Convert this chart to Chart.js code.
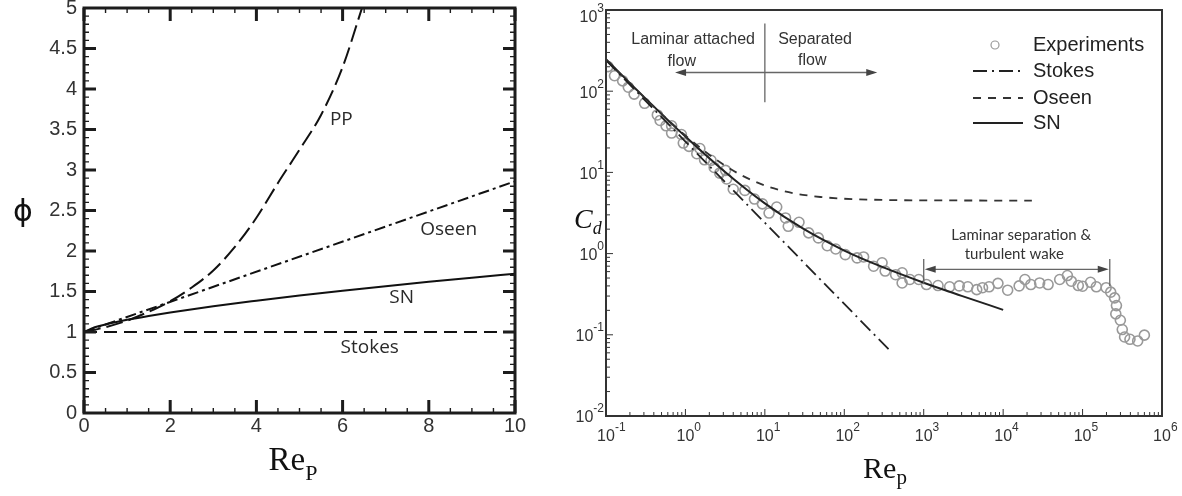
<!DOCTYPE html>
<html>
<head>
<meta charset="utf-8">
<script src="https://cdn.jsdelivr.net/npm/chart.js@4.4.1/dist/chart.umd.min.js"></script>
<style>
  html, body { margin: 0; padding: 0; background: #fff; }
  #wrap { position: relative; width: 1182px; height: 496px; overflow: hidden; }
  .box { position: absolute; top: 0; }
  #left { left: 0; }
  #right { left: 560px; }
</style>
</head>
<body>
<div id="wrap">
  <div class="box" id="left"><canvas id="phiChart" width="560" height="496"></canvas></div>
  <div class="box" id="right"><canvas id="cdChart" width="622" height="496"></canvas></div>
</div>
<script>
// --- pannello sinistro: fattore di correzione phi(Re_p)
const phiTicksX = [0, 2, 4, 6, 8, 10];
const stokesPhiRe = [0, 10];
const stokesPhi = [1, 1];
const oseenPhiRe = [0, 10];
const oseenPhi = [1, 2.86];
const snPhiRe = [0, 0.25, 0.5, 1, 1.5, 2, 3, 4, 5, 6, 7, 8, 9, 10];
const snPhi = [1, 1.058, 1.093, 1.15, 1.198, 1.241, 1.319, 1.387, 1.451, 1.51, 1.566, 1.62, 1.671, 1.72];
const ppPhiRe = [0, 0.5, 1, 1.5, 2, 2.5, 3, 3.5, 4, 4.5, 5, 5.5, 6, 6.45];
const ppPhi = [1, 1.06, 1.14, 1.25, 1.38, 1.55, 1.76, 2.05, 2.41, 2.84, 3.25, 3.68, 4.27, 5.0];

// --- pannello destro: Cd(Re_p)
const cdDecadesX = [-1, 0, 1, 2, 3, 4, 5, 6];
const cdDecadesY = [-2, -1, 0, 1, 2, 3];
const expRe = [0.106, 0.128, 0.162, 0.191, 0.226, 0.306, 0.443, 0.48, 0.57, 0.67, 0.67, 0.89, 0.94, 1.11, 1.39, 1.52,
  1.74, 2.1, 2.3, 2.7, 3.2, 3.3, 4.0, 5.6, 7.4, 9.3, 11.3, 14.1, 18.2, 19.7, 26.9, 35.6, 47.2, 61, 78, 103, 145, 175,
  234, 299, 327, 443, 535, 535, 670, 867, 1084, 1514, 2120, 2800, 3590, 4650, 5500, 6650, 8600, 11400, 15900, 18800,
  22300, 28800, 36800, 51500, 64400, 72100, 88300, 100000, 126000, 149000, 198000, 226000, 253000, 267000, 262000,
  299000, 316000, 338000, 395000, 494000, 600000];
const expCd = [201, 155, 134, 112, 92, 71, 51, 43.6, 37.5, 37.5, 30.5, 29.3, 23, 20.9, 17, 19.7,
  14.3, 14.1, 11.5, 9.8, 10.6, 8.3, 6.2, 6.0, 4.7, 4.1, 3.16, 3.75, 2.75, 2.17, 2.43, 1.8, 1.56, 1.25, 1.14, 0.97, 0.885, 0.91,
  0.70, 0.77, 0.61, 0.55, 0.58, 0.435, 0.48, 0.48, 0.416, 0.404, 0.39, 0.40, 0.39, 0.36, 0.38, 0.39, 0.43, 0.354, 0.40, 0.48,
  0.416, 0.435, 0.416, 0.48, 0.537, 0.457, 0.404, 0.396, 0.443, 0.39, 0.38, 0.335, 0.285, 0.229, 0.181,
  0.151, 0.116, 0.094, 0.088, 0.084, 0.099];
const stokesRe = [0.1, 1, 10, 100, 370];
const stokesCd = [240, 24, 2.4, 0.24, 0.065];
const oseenRe = [0.1, 0.3, 1, 2, 3, 5, 10, 20, 30, 50, 100, 300, 1000, 3000, 10000, 23000];
const oseenCd = [244.5, 84.5, 28.5, 16.5, 12.5, 9.3, 6.9, 5.7, 5.3, 4.98, 4.74, 4.58, 4.52, 4.51, 4.5, 4.5];
const snRe = [0.1, 0.3, 1, 3, 10, 30, 100, 300, 1000, 3000, 10000];
const snCd = [247, 85.2, 27.6, 10.55, 4.15, 2.04, 1.09, 0.685, 0.438, 0.302, 0.203];

function pts(xs, ys) {
  return xs.map((x, i) => ({ x: x, y: ys[i] }));
}

// contorno e tacche del pannello sinistro
const phiFrame = {
  id: 'phiFrame',
  afterDatasetsDraw(chart) {
    const ctx = chart.ctx, a = chart.chartArea, sx = chart.scales.x, sy = chart.scales.y;
    ctx.save();
    ctx.strokeStyle = '#1c1c1c';
    ctx.lineCap = 'butt';
    // tacche minori
    ctx.lineWidth = 1.4;
    ctx.beginPath();
    for (let v = 0.5; v < 10; v += 0.5) {
      const p = sx.getPixelForValue(v);
      ctx.moveTo(p, a.bottom); ctx.lineTo(p, a.bottom - 5);
      ctx.moveTo(p, a.top); ctx.lineTo(p, a.top + 5);
    }
    for (let v = 0.1; v < 5; v += 0.1) {
      const p = sy.getPixelForValue(v);
      ctx.moveTo(a.left, p); ctx.lineTo(a.left + 5, p);
      ctx.moveTo(a.right, p); ctx.lineTo(a.right - 5, p);
    }
    ctx.stroke();
    // tacche principali
    ctx.lineWidth = 3;
    ctx.beginPath();
    phiTicksX.forEach(v => {
      const p = sx.getPixelForValue(v);
      ctx.moveTo(p, a.bottom); ctx.lineTo(p, a.bottom - 13);
      ctx.moveTo(p, a.top); ctx.lineTo(p, a.top + 13);
    });
    for (let v = 0.5; v < 5; v += 0.5) {
      const p = sy.getPixelForValue(v);
      ctx.moveTo(a.left, p); ctx.lineTo(a.left + 12, p);
      ctx.moveTo(a.right, p); ctx.lineTo(a.right - 12, p);
    }
    ctx.stroke();
    ctx.lineWidth = 3;
    ctx.strokeRect(a.left, a.top, a.right - a.left, a.bottom - a.top);

    // etichette delle curve
    ctx.fillStyle = '#2a2a2a';
    ctx.font = '19px "Open Sans"';
    ctx.textAlign = 'center';
    ctx.textBaseline = 'middle';
    [['PP', 5.97, 3.62], ['Oseen', 8.46, 2.27], ['SN', 7.37, 1.42], ['Stokes', 6.63, 0.81]].forEach(l => {
      ctx.fillText(l[0], sx.getPixelForValue(l[1]), sy.getPixelForValue(l[2]));
    });

    // titoli assi
    ctx.fillStyle = '#111';
    ctx.font = '30px "DejaVu Sans"';
    ctx.fillText('\u03D5', 23, 213);
    ctx.textAlign = 'left';
    ctx.textBaseline = 'alphabetic';
    ctx.font = '33px "Liberation Serif"';
    const w1 = ctx.measureText('Re').width;
    ctx.font = '22px "Liberation Serif"';
    const w2 = ctx.measureText('P').width;
    const x0 = 293 - (w1 + w2) / 2;
    ctx.font = '33px "Liberation Serif"';
    ctx.fillText('Re', x0, 470);
    ctx.font = '22px "Liberation Serif"';
    ctx.fillText('P', x0 + w1, 480);
    ctx.restore();
  }
};

new Chart(document.getElementById('phiChart'), {
  type: 'scatter',
  data: {
    datasets: [
      { label: 'PP', data: pts(ppPhiRe, ppPhi), showLine: true, borderColor: '#111', borderWidth: 2,
        borderDash: [17, 6], pointRadius: 0, cubicInterpolationMode: 'monotone' },
      { label: 'Oseen', data: pts(oseenPhiRe, oseenPhi), showLine: true, borderColor: '#111', borderWidth: 2,
        borderDash: [11, 4, 3, 4], pointRadius: 0 },
      { label: 'SN', data: pts(snPhiRe, snPhi), showLine: true, borderColor: '#111', borderWidth: 2,
        pointRadius: 0, cubicInterpolationMode: 'monotone' },
      { label: 'Stokes', data: pts(stokesPhiRe, stokesPhi), showLine: true, borderColor: '#111', borderWidth: 2,
        borderDash: [13, 7], pointRadius: 0 }
    ]
  },
  options: {
    responsive: false,
    animation: false,
    devicePixelRatio: 1,
    layout: { padding: { top: 8, right: 45, left: 0, bottom: 0 } },
    plugins: { legend: { display: false }, tooltip: { enabled: false } },
    scales: {
      x: {
        type: 'linear', min: 0, max: 10,
        grid: { display: false, drawTicks: false },
        border: { display: false },
        ticks: { stepSize: 2, padding: 1, maxRotation: 0, color: '#333',
          font: { family: 'Liberation Sans', size: 20 }, callback: v => String(v) },
        afterFit: s => { s.height = 83; s.paddingLeft = 0; s.paddingRight = 0; }
      },
      y: {
        type: 'linear', min: 0, max: 5,
        grid: { display: false, drawTicks: false },
        border: { display: false },
        ticks: { stepSize: 0.5, padding: 7, color: '#333',
          font: { family: 'Liberation Sans', size: 20 }, callback: v => String(v) },
        afterFit: s => { s.width = 84; s.paddingTop = 0; s.paddingBottom = 0; }
      }
    }
  },
  plugins: [phiFrame]
});

// --- pannello destro
function powLabel(ctx, x, y, exp, mode) {
  ctx.font = '16px "Liberation Sans"';
  const wb = ctx.measureText('10').width;
  ctx.font = '12px "Liberation Sans"';
  const we = ctx.measureText(exp).width;
  let xb;
  if (mode === 'right') xb = x - we - wb; else xb = x - wb / 2;
  ctx.textAlign = 'left';
  ctx.textBaseline = 'middle';
  ctx.font = '16px "Liberation Sans"';
  ctx.fillText('10', xb, y);
  ctx.font = '12px "Liberation Sans"';
  ctx.fillText(exp, xb + wb, y - 9);
}

function arrowHead(ctx, x, y, dir) {
  ctx.beginPath();
  ctx.moveTo(x, y);
  ctx.lineTo(x - dir * 11, y - 3.5);
  ctx.lineTo(x - dir * 11, y + 3.5);
  ctx.closePath();
  ctx.fill();
}

const cdFrame = {
  id: 'cdFrame',
  afterDatasetsDraw(chart) {
    const ctx = chart.ctx, a = chart.chartArea, sx = chart.scales.x, sy = chart.scales.y;
    ctx.save();
    ctx.strokeStyle = '#333';
    // tacche logaritmiche (solo sinistra e basso)
    ctx.lineWidth = 1;
    ctx.beginPath();
    cdDecadesX.forEach(d => {
      for (let m = 1; m < 10; m++) {
        const v = m * Math.pow(10, d);
        if (v > 1e6) break;
        const p = sx.getPixelForValue(v);
        const len = m === 1 ? 7 : 4;
        ctx.moveTo(p, a.bottom); ctx.lineTo(p, a.bottom - len);
      }
    });
    cdDecadesY.forEach(d => {
      for (let m = 1; m < 10; m++) {
        const v = m * Math.pow(10, d);
        if (v > 1000) break;
        const p = sy.getPixelForValue(v);
        const len = m === 1 ? 7 : 4;
        ctx.moveTo(a.left, p); ctx.lineTo(a.left + len, p);
      }
    });
    ctx.stroke();
    ctx.lineWidth = 2;
    ctx.strokeRect(a.left, a.top, a.right - a.left, a.bottom - a.top);

    // etichette dei decenni
    ctx.fillStyle = '#333';
    cdDecadesX.forEach(d => {
      powLabel(ctx, sx.getPixelForValue(Math.pow(10, d)), a.bottom + 21, String(d), 'center');
    });
    cdDecadesY.forEach(d => {
      const p = sy.getPixelForValue(Math.pow(10, d));
      powLabel(ctx, a.left - 2, Math.max(p + 2, 18), String(d), 'right');
    });

    // titoli assi
    ctx.fillStyle = '#111';
    ctx.textAlign = 'left';
    ctx.textBaseline = 'alphabetic';
    ctx.font = 'italic 28px "Liberation Serif"';
    ctx.fillText('C', 14, 228);
    const wc = ctx.measureText('C').width;
    ctx.font = 'italic 18px "Liberation Serif"';
    ctx.fillText('d', 14 + wc, 234);

    ctx.font = '30px "Liberation Serif"';
    const w1 = ctx.measureText('Re').width;
    ctx.font = '21px "Liberation Serif"';
    const w2 = ctx.measureText('p').width;
    const x0 = 325 - (w1 + w2) / 2;
    ctx.font = '30px "Liberation Serif"';
    ctx.fillText('Re', x0, 478);
    ctx.font = '21px "Liberation Serif"';
    ctx.fillText('p', x0 + w1, 484);

    // annotazioni
    ctx.strokeStyle = '#666';
    ctx.fillStyle = '#444';
    ctx.lineWidth = 1.3;
    const X = v => sx.getPixelForValue(v), Y = v => sy.getPixelForValue(v);
    ctx.beginPath();
    ctx.moveTo(X(10), Y(680)); ctx.lineTo(X(10), Y(73));
    ctx.moveTo(X(0.74) + 4, Y(170)); ctx.lineTo(X(260) - 4, Y(170));
    ctx.moveTo(X(1000), Y(0.86)); ctx.lineTo(X(1000), Y(0.42));
    ctx.moveTo(X(2.2e5), Y(0.86)); ctx.lineTo(X(2.2e5), Y(0.40));
    ctx.moveTo(X(1000) + 4, Y(0.64)); ctx.lineTo(X(2.2e5) - 4, Y(0.64));
    ctx.stroke();
    arrowHead(ctx, X(0.74), Y(170), -1);
    arrowHead(ctx, X(260), Y(170), 1);
    arrowHead(ctx, X(1000) + 1, Y(0.64), -1);
    arrowHead(ctx, X(2.2e5) - 1, Y(0.64), 1);

    ctx.fillStyle = '#333';
    ctx.textAlign = 'center';
    ctx.textBaseline = 'middle';
    ctx.font = '16px "Liberation Sans"';
    ctx.fillText('Laminar attached', X(1.25), Y(427));
    ctx.fillText('flow', X(0.9), Y(229));
    ctx.fillText('Separated', X(42.9), Y(427));
    ctx.fillText('flow', X(39.5), Y(241));
    ctx.font = '15px "Lato"';
    ctx.fillText('Laminar separation &', X(16900), Y(1.69));
    ctx.fillText('turbulent wake', X(13800), Y(0.99));

    // legenda
    const ds = chart.data.datasets;
    const rows = [[ds[3], 45], [ds[0], 71], [ds[1], 98], [ds[2], 123]];
    ctx.textAlign = 'left';
    ctx.font = '20px "Liberation Sans"';
    rows.forEach(r => {
      const d = r[0], y = r[1];
      if (d.showLine === false) {
        ctx.strokeStyle = d.pointBorderColor;
        ctx.lineWidth = 1.2;
        ctx.beginPath();
        ctx.arc(435, y, 4, 0, Math.PI * 2);
        ctx.stroke();
      } else {
        ctx.strokeStyle = d.borderColor;
        ctx.lineWidth = d.borderWidth;
        ctx.setLineDash(d.borderDash || []);
        ctx.beginPath();
        ctx.moveTo(413, y); ctx.lineTo(463, y);
        ctx.stroke();
        ctx.setLineDash([]);
      }
      ctx.fillStyle = '#222';
      ctx.fillText(d.label, 473, y);
    });
    ctx.restore();
  }
};

new Chart(document.getElementById('cdChart'), {
  type: 'scatter',
  data: {
    datasets: [
      { label: 'Stokes', data: pts(stokesRe, stokesCd), showLine: true, borderColor: '#222', borderWidth: 1.8,
        borderDash: [14, 5, 2, 5], pointRadius: 0 },
      { label: 'Oseen', data: pts(oseenRe, oseenCd), showLine: true, borderColor: '#333', borderWidth: 1.8,
        borderDash: [8, 7], pointRadius: 0, cubicInterpolationMode: 'monotone' },
      { label: 'SN', data: pts(snRe, snCd), showLine: true, borderColor: '#222', borderWidth: 2,
        pointRadius: 0, cubicInterpolationMode: 'monotone' },
      { label: 'Experiments', data: pts(expRe, expCd), showLine: false, pointRadius: 5,
        pointBorderColor: '#999', pointBackgroundColor: 'rgba(255,255,255,0)', pointBorderWidth: 1.6 }
    ]
  },
  options: {
    responsive: false,
    animation: false,
    devicePixelRatio: 1,
    layout: { padding: { top: 10, right: 20, left: 46, bottom: 80 } },
    plugins: { legend: { display: false }, tooltip: { enabled: false } },
    scales: {
      x: { type: 'logarithmic', min: 0.1, max: 1e6, display: false },
      y: { type: 'logarithmic', min: 0.01, max: 1000, display: false }
    }
  },
  plugins: [cdFrame]
});
</script>
</body>
</html>
